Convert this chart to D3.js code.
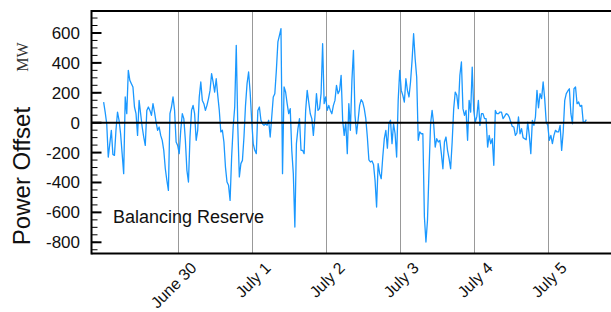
<!DOCTYPE html>
<html>
<head>
<meta charset="utf-8">
<script src="https://cdn.jsdelivr.net/npm/d3@7"></script>
<style>
body{margin:0;background:#fff}
svg{display:block;font-family:"Liberation Sans",Arial,sans-serif}
</style>
</head>
<body>
<script>
// half-hourly balancing reserve offset, starting June 29 00:00
var startTime = Date.UTC(2014,5,29,0,0);
var stepMinutes = 30;
var offsetMW = [
 138,71,-7,-230,-140,-51,-212,-219,-51,71,16,-74,-207,-341,172,60,350,283,261,239,
 105,60,-85,149,60,-29,-96,-152,82,105,82,49,127,71,4,-51,-29,-85,-118,-185,
 -308,-386,-453,60,105,172,82,-129,-152,-207,-51,60,27,-118,-319,-397,-96,82,116,60,
 -118,-51,172,272,149,127,82,116,161,216,328,272,205,294,183,82,-62,-51,-129,-297,
 -397,-419,-520,-230,-29,105,517,-29,-363,-274,-252,-96,116,261,339,205,16,-140,-185,-207,
 82,105,16,-7,-18,-7,-18,16,-96,38,172,194,350,540,584,629,-341,239,205,127,
 60,94,-185,-341,-698,-140,-40,27,-185,-185,-207,82,216,138,60,27,-85,38,194,82,
 94,194,528,127,172,82,116,82,60,116,149,250,194,216,317,16,-85,4,-207,127,
 -51,283,484,49,-74,16,116,154,138,94,27,-96,-248,-263,-256,-279,-386,-564,-274,-341,
 -375,-230,-107,-51,-170,-7,16,-140,-7,-74,-230,149,350,216,183,138,294,216,172,272,
 417,595,428,305,-118,-62,-74,-74,-631,-798,-653,-319,-7,82,-7,-163,-107,-129,-118,-207,
 -308,-129,-96,-185,-241,-308,-129,94,205,183,94,317,406,94,49,82,-118,149,71,372,
 82,4,42,149,-18,60,60,27,27,-163,-85,-140,-107,-285,82,60,60,71,71,27,
 42,60,56,38,4,-25,-29,-85,-69,38,-74,-40,-100,-107,-114,4,-85,-207,16,-18,
 38,216,100,194,161,272,161,4,-18,-118,-85,-140,-85,-51,-62,-62,-18,-185,-62,149,
 194,212,227,60,-7,227,239,127,138,109,116,4,4,20
];
var dayTicks = [Date.UTC(2014,5,30),Date.UTC(2014,6,1),Date.UTC(2014,6,2),Date.UTC(2014,6,3),Date.UTC(2014,6,4),Date.UTC(2014,6,5)];
var dayLabels = ['June 30','July 1','July 2','July 3','July 4','July 5'];
var yMajorTicks = [-800,-600,-400,-200,0,200,400,600];
var yMinorTicks = d3.range(-850,701,50);

var W = 611, H = 312;
var plotLeft = 91.5, plotTop = 11, plotBottom = 253.5, plotRight = 611;

var svg = d3.select('body').append('svg').attr('width',W).attr('height',H);

var x = d3.scaleUtc()
    .domain([new Date(Date.UTC(2014,5,28,20,0)), new Date(Date.UTC(2014,6,5,20,30))])
    .range([91.3,611]);
var y = d3.scaleLinear().domain([-875,747]).range([plotBottom,plotTop]);

var series = offsetMW.map(function(v,i){
    return {t:new Date(startTime + i*stepMinutes*60000), v:v};
});

svg.append('defs').append('clipPath').attr('id','plotclip')
    .append('rect').attr('x',plotLeft).attr('y',plotTop).attr('width',plotRight-plotLeft).attr('height',plotBottom-plotTop);

// vertical day gridlines
svg.append('g').selectAll('line').data(dayTicks).enter().append('line')
    .attr('x1',function(d){return Math.round(x(d))+0.5;})
    .attr('x2',function(d){return Math.round(x(d))+0.5;})
    .attr('y1',plotTop).attr('y2',plotBottom)
    .attr('stroke','#999').attr('stroke-width',1);

// the trace
var line = d3.line().x(function(d){return x(d.t);}).y(function(d){return y(d.v);});
svg.append('path').datum(series).attr('d',line)
    .attr('clip-path','url(#plotclip)')
    .attr('fill','none').attr('stroke','#1a98ff').attr('stroke-width',1.3)
    .attr('stroke-linejoin','round');

// zero line
svg.append('line').attr('x1',plotLeft).attr('x2',plotRight).attr('y1',y(0)).attr('y2',y(0))
    .attr('stroke','#000').attr('stroke-width',2);

// frame
svg.append('line').attr('x1',plotLeft).attr('x2',plotRight).attr('y1',plotTop).attr('y2',plotTop)
    .attr('stroke','#000').attr('stroke-width',2);
svg.append('line').attr('x1',plotLeft).attr('x2',plotRight).attr('y1',plotBottom).attr('y2',plotBottom)
    .attr('stroke','#000').attr('stroke-width',2);
svg.append('line').attr('x1',plotLeft).attr('x2',plotLeft).attr('y1',plotTop-1).attr('y2',plotBottom+1)
    .attr('stroke','#000').attr('stroke-width',2);

// y ticks
svg.append('g').selectAll('line').data(yMinorTicks).enter().append('line')
    .attr('x1',plotLeft).attr('x2',plotLeft+6)
    .attr('y1',function(d){return y(d);}).attr('y2',function(d){return y(d);})
    .attr('stroke','#000').attr('stroke-width',1);
svg.append('g').selectAll('line').data(yMajorTicks).enter().append('line')
    .attr('x1',plotLeft).attr('x2',plotLeft+10)
    .attr('y1',function(d){return y(d);}).attr('y2',function(d){return y(d);})
    .attr('stroke','#000').attr('stroke-width',2);
svg.append('g').selectAll('text').data(yMajorTicks).enter().append('text')
    .attr('x',80).attr('y',function(d){return y(d);}).attr('dy','0.35em')
    .attr('text-anchor','end').attr('font-size',17).attr('fill','#111')
    .text(function(d){return d;});

// x labels
svg.append('g').selectAll('text').data(dayTicks).enter().append('text')
    .attr('transform',function(d){return 'translate('+(x(d)+20)+',269) rotate(-45)';})
    .attr('text-anchor','end').attr('font-size',16).attr('fill','#111')
    .text(function(d,i){return dayLabels[i];});

// axis titles
svg.append('text').attr('transform','translate(30,176) rotate(-90)')
    .attr('text-anchor','middle').attr('font-size',24).attr('fill','#111').text('Power Offset');
svg.append('text').attr('transform','translate(28,57) rotate(-90)')
    .attr('text-anchor','middle').attr('font-size',16).attr('fill','#333')
    .attr('font-family','"Liberation Serif","Times New Roman",serif').text('MW');

svg.append('text').attr('x',113).attr('y',223).attr('font-size',18).attr('fill','#111')
    .text('Balancing Reserve');
</script>
</body>
</html>
